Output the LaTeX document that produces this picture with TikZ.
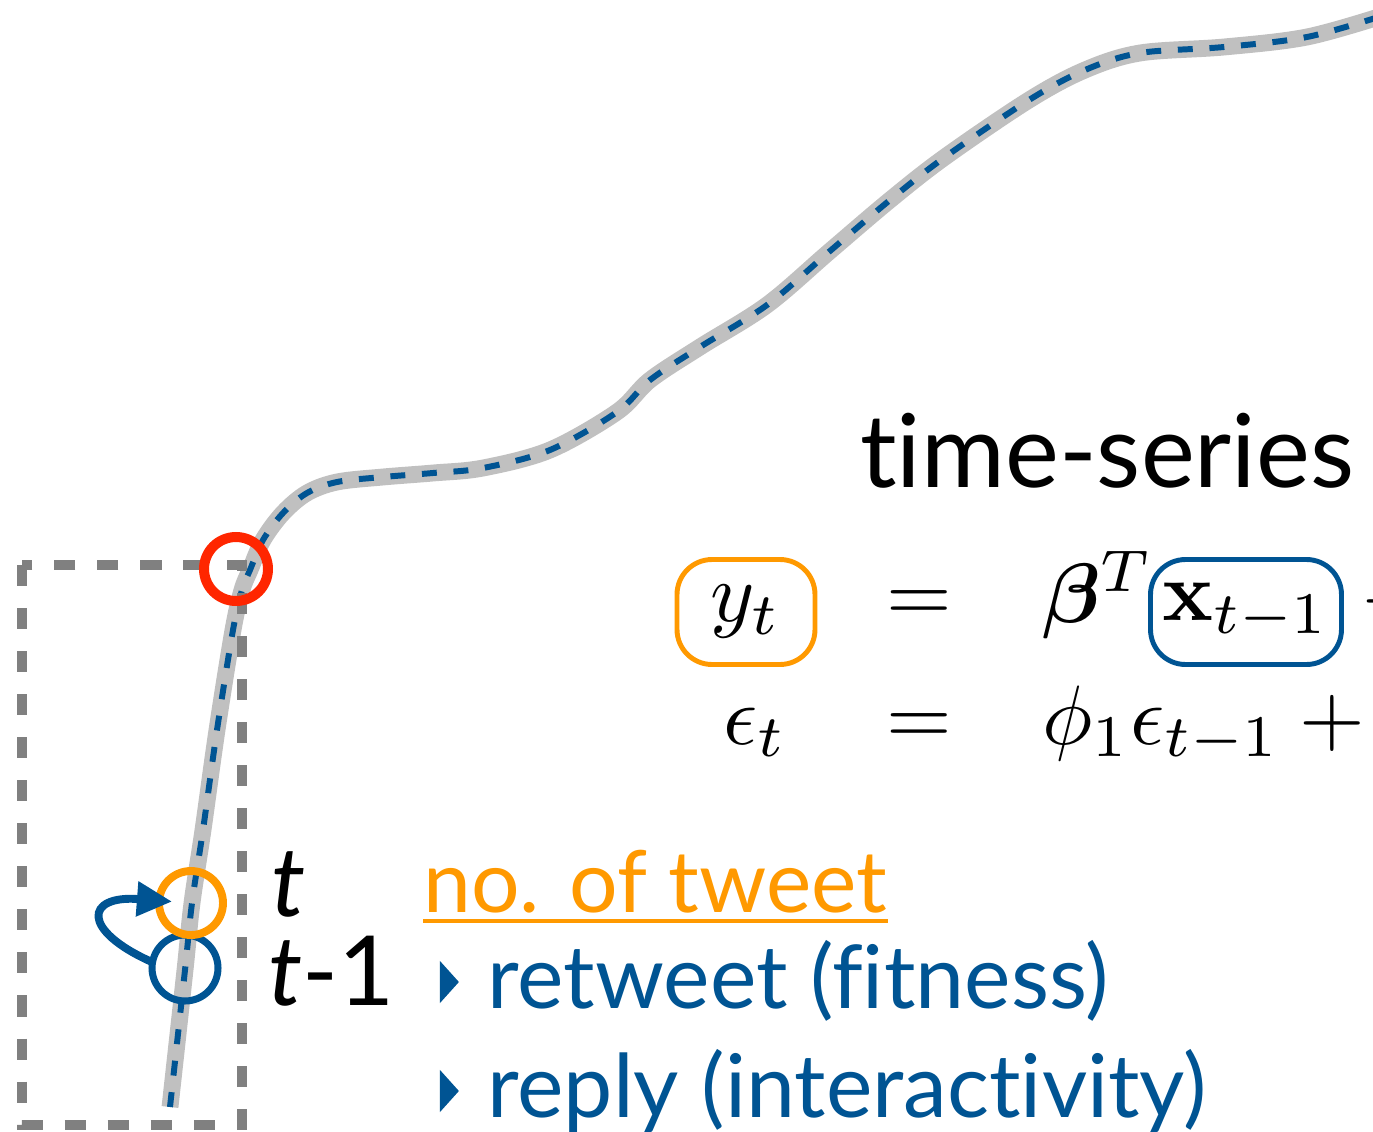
\RequirePackage{fix-cm}
\documentclass[tikz,border=0pt]{standalone}
\usepackage{amsmath, bm}
\usepackage[no-math]{fontspec}
\setmainfont{Lato}[Ligatures=NoCommon]
\usepackage{tikz}
\usetikzlibrary{arrows.meta, positioning, shapes.geometric}
\definecolor{tweetblue}{RGB}{0,84,147}
\definecolor{tweetorange}{RGB}{255,153,0}
\definecolor{hotred}{RGB}{255,38,0}
\definecolor{boxgray}{RGB}{128,128,128}
\definecolor{trendgray}{RGB}{192,192,192}
\newcommand{\bigmath}[1]{\scalebox{4.8}{$#1$}}

\begin{document}
\begin{tikzpicture}[x=0.02cm, y=-0.02cm,
        trend/.style={draw=trendgray, line width=9.6pt},
        trenddash/.style={draw=tweetblue, line width=3.4pt, dash pattern=on 8.5pt off 9.5pt},
        window/.style={draw=boxgray, line width=5.7pt, dash pattern=on 12pt off 12.5pt},
        ring/.style={circle, inner sep=0pt, outer sep=0pt},
        termbox/.style={draw, rounded corners=0.7cm, line width=2.8pt, inner sep=0pt, minimum height=2.1cm},
        mathtxt/.style={inner sep=0pt},
        bigtxt/.style={font=\fontsize{55}{66}\selectfont, inner sep=0pt},
        itemtxt/.style={font=\fontsize{50}{60}\selectfont, inner sep=0pt, text=tweetblue},
        tri/.style={isosceles triangle, isosceles triangle apex angle=96, fill=tweetblue, inner sep=0pt, minimum height=0.38cm}
    ]
        \clip (0,0) rectangle (1373,1132);

        % growth curve
        \draw[trend, postaction={trenddash}] plot[smooth, tension=0.55] coordinates {(170,1107) (185,970) (192,903) (203,830) (217,730) (233,630) (242,590) (250,570) (263,540) (283,513) (307,493) (337,482) (383,477) (433,473) (483,468) (550,450) (617,412) (650,380) (700,347) (767,305) (830,251) (890,200) (945,157) (1029,100) (1085,70) (1140,53) (1224,47) (1307,37) (1385,15)};

        % window
        \draw[window] (22,565) rectangle (242,1125);

        \node[ring, draw=tweetblue, line width=4pt, minimum size=1.32cm] (prev) at (185,968) {};
        \node[ring, draw=tweetorange, line width=4.5pt, minimum size=1.28cm] (cur) at (191,903) {};
        \node[ring, draw=hotred, line width=5.7pt, minimum size=1.28cm] (peak) at (236,569) {};

        \draw[tweetblue, line width=4.5pt, -{Triangle[length=20pt, width=19pt]}, shorten >=0.38cm] (prev.170) .. controls +(-72,-32) and +(-106,-8) .. (cur.center);

        \node[bigtxt, anchor=base west] (tlab) at (271,916) {\itshape t};
        \node[bigtxt, anchor=base west] (tprevlab) at (268,1005) {\textit{t}-1};

        \node[bigtxt, font=\fontsize{58}{70}\selectfont, anchor=base west] (modeltitle) at (860,487) {time-series};

        % equations
        \node[termbox, draw=tweetorange, minimum width=2.76cm] (yt) at (746,612) {\bigmath{y_t}};
        \node[mathtxt, anchor=base] (eqa) at (919,621) {\bigmath{=}};
        \node[mathtxt, anchor=base west] (betaT) at (1042,622) {\bigmath{\bm{\beta}^T}};
        \node[termbox, draw=tweetblue, minimum width=3.82cm] (xt) at (1246,612) {\bigmath{\mathbf{x}_{t-1}}};
        \node[mathtxt, anchor=base west] (plusa) at (1362,622) {\bigmath{+}};
        \node[mathtxt, anchor=base] (epst) at (755,744) {\bigmath{\epsilon_t}};
        \node[mathtxt, anchor=base] (eqb) at (919,744) {\bigmath{=}};
        \node[mathtxt, anchor=base west] (rhsb) at (1042,744) {\bigmath{\phi_1\epsilon_{t-1}+{}}};

        % features
        \node[itemtxt, text=tweetorange, font=\fontsize{48.8}{60}\selectfont, anchor=base west] (count) at (423,912) {no. of tweet};
        \draw[tweetorange, line width=2.3pt] ([yshift=-0.18cm]count.base west) -- ([yshift=-0.18cm]count.base east);
        \node[itemtxt, anchor=base west] (retweet) at (487,1008) {retweet (fitness)};
        \node[itemtxt, anchor=base west] (reply) at (487,1117) {reply (interactivity)};
        \node[tri] (retweetmark) at ([xshift=-0.78cm, yshift=0.52cm]retweet.base west) {};
        \node[tri] (replymark) at ([xshift=-0.78cm, yshift=0.52cm]reply.base west) {};

    \end{tikzpicture}
\end{document}
